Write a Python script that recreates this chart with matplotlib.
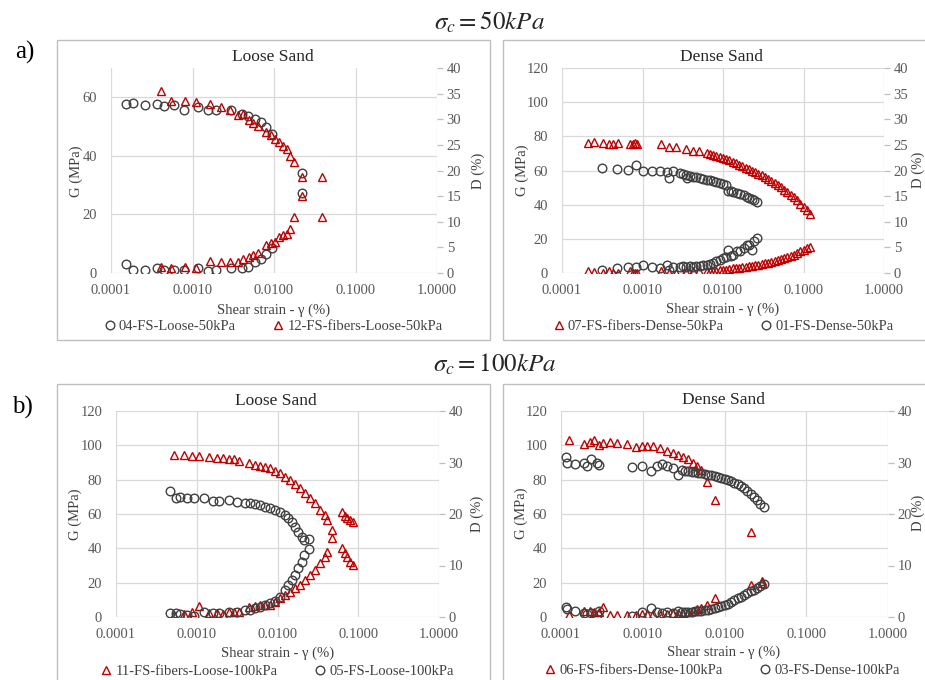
import numpy as np
import matplotlib
matplotlib.use('Agg')
import matplotlib.pyplot as plt
from matplotlib.lines import Line2D
from matplotlib.patches import Rectangle
from matplotlib.ticker import NullLocator

plt.rcParams['font.family'] = ['Liberation Serif', 'DejaVu Serif']
plt.rcParams['mathtext.fontset'] = 'stix'

# ---- test data: shear strain (%), shear modulus G (MPa), damping D (%) ----

# 04-FS-Loose-50kPa
loose50_strain = [0.000151, 0.000188, 0.000261, 0.000371, 0.000451, 0.000598, 0.000787, 0.00116, 0.00154,
                  0.00194, 0.00294, 0.00402, 0.00484, 0.00585, 0.00692, 0.00805, 0.00937, 0.0222]
loose50_G = [57.6, 58.0, 57.5, 57.6, 57.1, 57.3, 55.6, 56.7, 55.8, 55.8, 55.8, 54.4, 53.5, 52.6, 51.4, 49.8, 47.6, 34.3]
loose50_D = [1.8, 0.6, 0.5, 0.9, 0.5, 0.6, 0.5, 0.9, 0.3, 0.6, 1.0, 1.0, 1.2, 2.1, 2.7, 3.7, 4.8, 15.7]

# 12-FS-fibers-Loose-50kPa
loose50f_strain = [0.00041, 0.00054, 0.00082, 0.00109, 0.00165, 0.00226, 0.00288, 0.00358, 0.00413, 0.00498, 0.00556,
                   0.00641, 0.00805, 0.00912, 0.0103, 0.0115, 0.0130, 0.0143, 0.0158, 0.0177, 0.0219, 0.0392]
loose50f_G = [62.1, 58.9, 58.7, 58.3, 57.8, 56.7, 55.8, 53.9, 54.2, 52.1, 51.2, 50.3, 48.0, 47.1, 45.8, 44.6, 43.5,
              42.4, 40.1, 38.0, 32.8, 19.0]
loose50f_D = [1.1, 1.0, 1.2, 0.9, 2.3, 2.2, 2.2, 2.2, 2.7, 3.2, 3.5, 4.0, 5.5, 5.9, 6.1, 7.1, 7.4, 7.7, 8.5, 10.9,
              15.0, 18.8]

# 01-FS-Dense-50kPa
dense50_strain = [0.000317, 0.000482, 0.000654, 0.000823, 0.00100, 0.00132, 0.00165, 0.00203, 0.00215, 0.00241,
                  0.00292, 0.00315, 0.00347, 0.00354, 0.00390, 0.00428, 0.00465, 0.00518, 0.00565, 0.00627, 0.00690,
                  0.00758, 0.00830, 0.00918, 0.0101, 0.0108, 0.0116, 0.0125, 0.0134, 0.0148, 0.0163, 0.0180, 0.0197,
                  0.0212, 0.0227, 0.0245, 0.0262]
dense50_G = [61.7, 60.9, 60.1, 63.0, 59.7, 59.9, 59.7, 59.1, 55.8, 59.7, 58.4, 58.0, 57.6, 55.4, 57.0, 56.4, 56.0,
             55.4, 55.0, 54.6, 54.2, 53.8, 53.2, 52.8, 52.3, 51.5, 48.0, 47.8, 47.2, 46.7, 46.1, 45.4, 44.7, 44.0,
             43.3, 42.5, 41.7]
dense50_D = [0.6, 0.9, 1.2, 1.2, 1.6, 1.2, 1.0, 1.6, 0.6, 1.2, 1.2, 1.3, 1.2, 0.0, 1.3, 1.2, 1.3, 1.4, 1.5, 1.6,
             1.8, 2.0, 2.3, 2.5, 2.9, 3.1, 4.5, 3.4, 3.5, 4.2, 4.2, 4.8, 5.5, 5.5, 4.4, 6.2, 6.8]

# 07-FS-fibers-Dense-50kPa
dense50f_strain = [0.000212, 0.000252, 0.000326, 0.000387, 0.000434, 0.000492, 0.000700, 0.000755, 0.000815,
                   0.000863, 0.00168, 0.00213, 0.00258, 0.00347, 0.00420, 0.00508, 0.0063, 0.0069, 0.0076, 0.0083,
                   0.0091, 0.0100, 0.0110, 0.0120, 0.0132, 0.0145, 0.0158, 0.0174, 0.0191, 0.0209, 0.0229, 0.0251,
                   0.0275, 0.0302, 0.0331, 0.0363, 0.0398, 0.0437, 0.0479, 0.0525, 0.0575, 0.0631, 0.0692, 0.0759,
                   0.0832, 0.0912, 0.1000, 0.1096, 0.1202]
dense50f_G = [76.3, 76.8, 76.3, 75.5, 75.5, 76.3, 75.5, 75.5, 76.3, 75.5, 75.5, 73.6, 73.9, 72.6, 71.2, 71.2,
              70.4, 69.6, 69.1, 68.5, 67.9, 67.3, 66.6, 65.9, 65.2, 64.3, 63.5, 62.5, 61.6, 60.8, 59.9, 59.1,
              58.2, 57.1, 56.1, 54.9, 53.8, 52.8, 51.6, 50.1, 48.7, 47.3, 45.8, 44.3, 42.6, 40.5, 38.8, 36.7, 34.3]
dense50f_D = [0.3, 0.2, 0.0, 0.3, 0.0, 0.0, 0.3, 0.0, 0.0, 0.0, 0.3, 0.0, 0.0, 0.2, 0.3, 0.3,
              0.3, 0.3, 0.3, 0.4, 0.5, 0.6, 0.6, 0.8, 0.9, 0.9, 1.0, 1.1, 1.2, 1.3, 1.4, 1.5,
              1.6, 1.7, 1.9, 2.0, 2.2, 2.4, 2.6, 2.8, 3.0, 3.2, 3.4, 3.6, 3.9, 4.2, 4.5, 4.8, 5.0]

# 05-FS-Loose-100kPa
loose100_strain = [0.000467, 0.000548, 0.00062, 0.000764, 0.000933, 0.00123, 0.00158, 0.0019, 0.00253, 0.00318,
                   0.00396, 0.00456, 0.00526, 0.00607, 0.0070, 0.00807, 0.00931, 0.0107, 0.0124, 0.0136, 0.0150,
                   0.0165, 0.0181, 0.0199, 0.0213, 0.0248]
loose100_G = [73.6, 69.1, 70.1, 69.1, 69.1, 69.5, 67.6, 67.7, 68.1, 67.2, 66.6, 66.2, 65.6, 65.2, 64.3, 63.3, 62.3,
              61.3, 59.4, 57.8, 55.5, 52.6, 49.7, 46.8, 44.8, 45.6]
loose100_D = [0.8, 0.7, 0.6, 0.4, 0.2, 1.0, 0.7, 0.8, 1.0, 1.0, 1.3, 1.4, 1.7, 2.0, 2.3, 2.7, 3.2, 3.9, 5.2, 6.2,
              7.2, 8.2, 9.5, 10.7, 12.0, 13.3]

# 11-FS-fibers-Loose-100kPa
loose100f_strain = [0.000523, 0.000695, 0.000865, 0.00108, 0.00142, 0.00177, 0.00213, 0.00253, 0.00289, 0.0033,
                    0.00443, 0.00531, 0.00607, 0.0070, 0.00807, 0.00931, 0.0107, 0.0124, 0.0143, 0.0165, 0.0190,
                    0.0219, 0.0253, 0.0291, 0.0336, 0.0387, 0.0414, 0.0469, 0.0624, 0.0686, 0.0731, 0.0788, 0.0865]
loose100f_G = [94.4, 94.4, 94.0, 94.0, 93.4, 92.8, 92.4, 92.0, 91.8, 91.0, 89.5, 88.3, 87.9, 87.5, 86.6, 85.0, 83.7,
               81.7, 79.8, 77.5, 75.0, 72.0, 69.1, 66.2, 62.3, 59.4, 56.5, 50.7, 40.0, 37.1, 35.1, 32.2, 30.3]
loose100f_D = [0.4, 0.6, 1.0, 2.2, 0.7, 0.7, 0.6, 1.0, 1.0, 1.0, 2.0, 2.2, 2.3, 2.3, 2.3, 3.0, 3.6, 4.3, 4.9, 5.6,
               6.2, 7.2, 8.2, 9.1, 10.4, 11.7, 12.7, 15.3, 20.4, 19.6, 19.2, 18.8, 18.5]

# 03-FS-Dense-100kPa
dense100_strain = [0.000115, 0.000119, 0.000148, 0.000191, 0.000206, 0.000231, 0.000273, 0.000295, 0.000733,
                   0.00097, 0.00125, 0.00148, 0.00171, 0.00196, 0.00236, 0.00272, 0.0030, 0.0033, 0.0036, 0.0040,
                   0.0044, 0.0048, 0.0052, 0.0058, 0.0063, 0.0069, 0.0076, 0.0083, 0.0091, 0.0100, 0.0110, 0.0120,
                   0.0132, 0.0145, 0.0158, 0.0174, 0.0191, 0.0209, 0.0229, 0.0251, 0.0275, 0.0302]
dense100_G = [93.4, 89.9, 89.1, 89.5, 87.9, 92.0, 89.9, 88.5, 87.5, 87.9, 85.2, 87.9, 89.1, 87.9, 87.0, 82.7,
              85.5, 85.3, 85.0, 84.6, 84.3, 84.0, 83.7, 83.3, 82.9, 82.5, 82.1, 81.6, 81.1, 80.4, 79.7, 79.0,
              78.1, 77.2, 76.2, 74.9, 73.6, 71.9, 70.0, 68.0, 66.0, 64.2]
dense100_D = [2.0, 1.5, 1.2, 0.7, 0.6, 0.8, 0.4, 1.2, 0.2, 1.0, 1.7, 1.0, 0.8, 1.0, 0.8, 1.2,
              1.0, 1.0, 1.0, 1.0, 1.2, 1.2, 1.2, 1.3, 1.4, 1.5, 1.7, 1.9, 2.1, 2.3, 2.6, 2.9,
              3.3, 3.6, 3.9, 4.3, 4.6, 5.0, 5.3, 5.7, 6.0, 6.4]

# 06-FS-fibers-Dense-100kPa
dense100f_strain = [0.000125, 0.000191, 0.000226, 0.000256, 0.000295, 0.000324, 0.000397, 0.00048, 0.000635,
                    0.000819, 0.00097, 0.00112, 0.00132, 0.00163, 0.0020, 0.00236, 0.00272, 0.00313, 0.00361,
                    0.00415, 0.00465, 0.0051, 0.00605, 0.00765, 0.0209, 0.0285]
dense100f_G = [103.1, 100.8, 102.1, 103.1, 100.2, 101.2, 102.1, 101.2, 100.8, 98.8, 99.6, 99.6, 99.6, 98.2, 96.9,
               95.7, 94.4, 93.0, 91.8, 89.9, 87.9, 85.6, 78.8, 68.1, 49.7, 19.6]
dense100f_D = [0.4, 1.2, 1.2, 1.0, 1.0, 2.0, 0.4, 0.3, 0.3, 0.4, 0.6, 0.6, 0.6, 0.4, 0.6, 0.7, 0.7, 0.8, 1.0, 1.2,
               1.5, 1.7, 2.3, 3.6, 6.2, 6.9]

strain_ticks = [0.0001, 0.001, 0.01, 0.1, 1.0]
strain_labels = ['0.0001', '0.0010', '0.0100', '0.1000', '1.0000']

GRAY = '#404040'
RED = '#c00000'
GRID = '#d9d9d9'
TICK = '#595959'

W, H = 925, 680
fig = plt.figure(figsize=(W / 100, H / 100), dpi=100)


def fx(px):
    return px / W


def fy(py):
    return 1 - py / H


def spec(strain, g, d, kind, label):
    if kind == 'plain':
        style = dict(marker='o', color=GRAY, ms=6.2)
    else:
        style = dict(marker='^', color=RED, ms=6.0)
    return dict(strain=strain, G=g, D=d, style=style, label=label)


def draw_panel(box, plot, gmax, dstep, specimens, title, label_px):
    # light frame around each chart
    x0, y0, x1, y1 = box
    fig.add_artist(Rectangle((fx(x0), fy(y1)), (x1 - x0) / W, (y1 - y0) / H, transform=fig.transFigure,
                             fill=False, edgecolor='#bfbfbf', lw=1.0, clip_on=False))

    l, t, r, b = plot
    ax = fig.add_axes([fx(l), fy(b), (r - l) / W, (b - t) / H])
    ax2 = ax.twinx()

    ax.set_xscale('log')
    ax.set_xlim(1e-4, 1)
    ax.set_xticks(strain_ticks)
    ax.set_xticklabels(strain_labels)
    ax.xaxis.set_minor_locator(NullLocator())
    ax.set_ylim(0, gmax)
    ax.set_yticks(np.arange(0, gmax + 1, 20))
    ax2.set_ylim(0, 40)
    ax2.set_yticks(np.arange(0, 41, dstep))

    ax.grid(True, color=GRID, lw=0.9)
    ax.set_axisbelow(True)
    for a in (ax, ax2):
        for s in a.spines.values():
            s.set_visible(False)
    ax.tick_params(axis='both', length=0, labelcolor=TICK, labelsize=10.5)
    ax.tick_params(axis='x', pad=8)
    ax.tick_params(axis='y', pad=10)
    ax2.tick_params(axis='y', length=4, width=0.9, color='#bfbfbf', pad=3, labelcolor=TICK, labelsize=10.5)

    for sp in specimens:
        st = sp['style']
        ax.plot(sp['strain'], sp['G'], ls='none', mfc='none', mew=1.0, mec=st['color'],
                marker=st['marker'], ms=st['ms'])
        ax2.plot(sp['strain'], sp['D'], ls='none', mfc='none', mew=1.0, mec=st['color'],
                 marker=st['marker'], ms=st['ms'])

    gx, dx, ylab, tx, ty, xlx, xly, lgx, lgy = label_px
    fig.text(fx(tx), fy(ty), title, ha='center', va='center', fontsize=12.5, color='#262626')
    fig.text(fx(gx), fy(ylab), 'G (MPa)', rotation=90, ha='center', va='center', fontsize=10.5, color='#404040')
    fig.text(fx(dx), fy(ylab), 'D (%)', rotation=90, ha='center', va='center', fontsize=10.5, color='#404040')
    fig.text(fx(xlx), fy(xly), 'Shear strain - γ (%)', ha='center', va='center', fontsize=10.5, color='#404040')

    handles = [Line2D([], [], ls='none', marker=sp['style']['marker'], ms=sp['style']['ms'], mfc='none',
                      mec=sp['style']['color'], mew=1.0) for sp in specimens]
    labels = [sp['label'] for sp in specimens]
    fig.legend(handles, labels, ncol=2, loc='center', bbox_to_anchor=(fx(lgx), fy(lgy)), frameon=False,
               fontsize=10.5, handlelength=0.6, handletextpad=0.35, columnspacing=2.6, labelcolor='#404040')
    return ax, ax2


draw_panel((57, 40, 490, 340), (111, 68, 437, 273), 70, 5,
           [spec(loose50_strain, loose50_G, loose50_D, 'plain', '04-FS-Loose-50kPa'),
            spec(loose50f_strain, loose50f_G, loose50f_D, 'fibers', '12-FS-fibers-Loose-50kPa')],
           'Loose Sand', (76, 478, 171, 273, 57, 274, 310, 274, 326))

draw_panel((503, 40, 935, 340), (562, 68, 884, 273), 120, 5,
           [spec(dense50f_strain, dense50f_G, dense50f_D, 'fibers', '07-FS-fibers-Dense-50kPa'),
            spec(dense50_strain, dense50_G, dense50_D, 'plain', '01-FS-Dense-50kPa')],
           'Dense Sand', (522, 918, 170, 722, 57, 723, 309, 724, 326))

draw_panel((57, 384, 490, 690), (116, 411, 439, 617), 120, 10,
           [spec(loose100f_strain, loose100f_G, loose100f_D, 'fibers', '11-FS-fibers-Loose-100kPa'),
            spec(loose100_strain, loose100_G, loose100_D, 'plain', '05-FS-Loose-100kPa')],
           'Loose Sand', (75, 477, 514, 276, 401, 278, 653, 278, 671))

draw_panel((503, 384, 935, 690), (561, 411, 888, 617), 120, 10,
           [spec(dense100f_strain, dense100f_G, dense100f_D, 'fibers', '06-FS-fibers-Dense-100kPa'),
            spec(dense100_strain, dense100_G, dense100_D, 'plain', '03-FS-Dense-100kPa')],
           'Dense Sand', (521, 918, 513, 723, 400, 724, 652, 723, 670))

fig.text(fx(489), fy(22), r'$\sigma_c = 50kPa$', ha='center', va='center', fontsize=18, color='#262626')
fig.text(fx(495), fy(364), r'$\sigma_c = 100kPa$', ha='center', va='center', fontsize=18, color='#262626')
fig.text(fx(25), fy(52), 'a)', ha='center', va='center', fontsize=18, color='black')
fig.text(fx(22), fy(407), 'b)', ha='center', va='center', fontsize=18, color='black')

fig.savefig('out.png', dpi=100)
